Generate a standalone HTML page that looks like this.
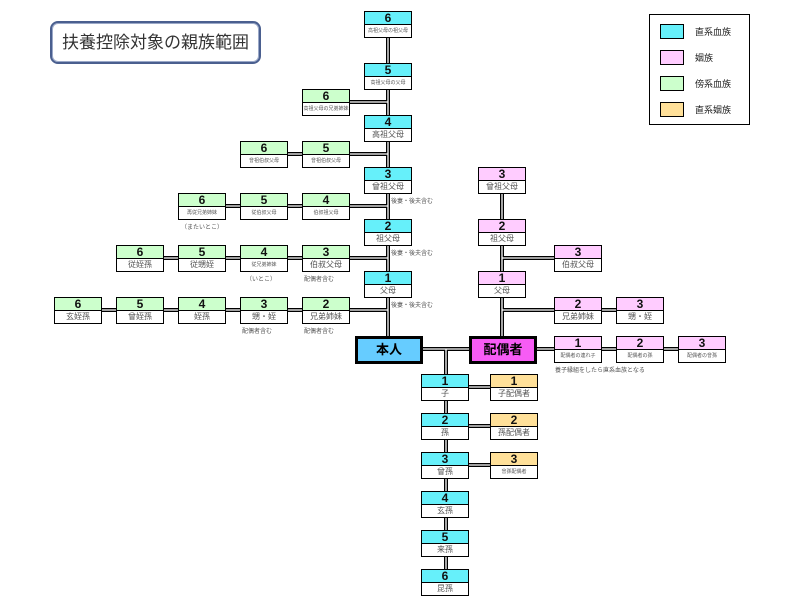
<!DOCTYPE html>
<html><head><meta charset="utf-8"><style>
body{margin:0;width:803px;height:610px;background:#fff;position:relative;overflow:hidden;font-family:"Liberation Sans","Noto Sans CJK JP",sans-serif;}
.b{position:absolute;width:46px;height:25px;border:1px solid #000;background:#fff;}
.b .n{height:12px;border-bottom:1px solid #000;font-weight:bold;font-size:12px;line-height:13px;text-align:center;color:#111;}
.b .l{height:12px;font-size:8px;line-height:12px;text-align:center;color:#555;white-space:nowrap;overflow:hidden;}
.b .l.s{font-size:5px;}
.c .n{background:#66f0fa}.p .n{background:#ffccff}.g .n{background:#ccffcc}.y .n{background:#ffe099}
.t{position:absolute;font-size:6px;color:#555;white-space:nowrap;}
.big{position:absolute;height:22px;border:3px solid #000;font-weight:bold;font-size:13px;line-height:22px;text-align:center;}
</style></head><body>
<svg width="803" height="610" style="position:absolute;left:0;top:0">
<g fill="none">
<g stroke="#000" stroke-width="4">
<path d="M388 37V336M446 349V569M502 193V336M422 349H469M348 102H388M240 154H388M178 206H388M116 258H388M54 310H388M502 258H554M502 310H616M536 349H678M446 387H490M446 426H490M446 465H490"/>
</g>
<g stroke="#fff" stroke-width="1.3">
<path d="M388 37V336M446 349V569M502 193V336M422 349H469M348 102H388M240 154H388M178 206H388M116 258H388M54 310H388M502 258H554M502 310H616M536 349H678M446 387H490M446 426H490M446 465H490"/>
</g>
</g>
</svg>
<div style="position:absolute;left:50px;top:21px;width:207px;height:39px;border:2px solid #4a5f8f;border-radius:8px;box-shadow:inset 0 0 0 1px #9aa8c8;font-size:17px;line-height:39px;text-align:center;color:#333;">扶養控除対象の親族範囲</div>
<div style="position:absolute;left:649px;top:14px;width:99px;height:109px;border:1px solid #000;font-size:9px;color:#222;">
<div style="position:absolute;left:10px;top:9px;width:22px;height:13px;border:1px solid #000;background:#66f0fa"></div><div style="position:absolute;left:45px;top:10px">直系血族</div>
<div style="position:absolute;left:10px;top:35px;width:22px;height:13px;border:1px solid #000;background:#ffccff"></div><div style="position:absolute;left:45px;top:36px">姻族</div>
<div style="position:absolute;left:10px;top:61px;width:22px;height:13px;border:1px solid #000;background:#ccffcc"></div><div style="position:absolute;left:45px;top:62px">傍系血族</div>
<div style="position:absolute;left:10px;top:87px;width:22px;height:13px;border:1px solid #000;background:#ffe099"></div><div style="position:absolute;left:45px;top:88px">直系姻族</div>
</div>

<div class="b c" style="left:364px;top:11px"><div class="n">6</div><div class="l s">高祖父母の祖父母</div></div>
<div class="b c" style="left:364px;top:63px"><div class="n">5</div><div class="l s">高祖父母の父母</div></div>
<div class="b c" style="left:364px;top:115px"><div class="n">4</div><div class="l">高祖父母</div></div>
<div class="b c" style="left:364px;top:167px"><div class="n">3</div><div class="l">曾祖父母</div></div>
<div class="b c" style="left:364px;top:219px"><div class="n">2</div><div class="l">祖父母</div></div>
<div class="b c" style="left:364px;top:271px"><div class="n">1</div><div class="l">父母</div></div>

<div class="b g" style="left:302px;top:89px"><div class="n">6</div><div class="l s">高祖父母の兄弟姉妹</div></div>
<div class="b g" style="left:240px;top:141px"><div class="n">6</div><div class="l s">曾祖伯叔父母</div></div>
<div class="b g" style="left:302px;top:141px"><div class="n">5</div><div class="l s">曾祖伯叔父母</div></div>
<div class="b g" style="left:178px;top:193px"><div class="n">6</div><div class="l s">再従兄弟姉妹</div></div>
<div class="b g" style="left:240px;top:193px"><div class="n">5</div><div class="l s">従伯叔父母</div></div>
<div class="b g" style="left:302px;top:193px"><div class="n">4</div><div class="l s">伯叔祖父母</div></div>
<div class="b g" style="left:116px;top:245px"><div class="n">6</div><div class="l">従姪孫</div></div>
<div class="b g" style="left:178px;top:245px"><div class="n">5</div><div class="l">従甥姪</div></div>
<div class="b g" style="left:240px;top:245px"><div class="n">4</div><div class="l s">従兄弟姉妹</div></div>
<div class="b g" style="left:302px;top:245px"><div class="n">3</div><div class="l">伯叔父母</div></div>
<div class="b g" style="left:54px;top:297px"><div class="n">6</div><div class="l">玄姪孫</div></div>
<div class="b g" style="left:116px;top:297px"><div class="n">5</div><div class="l">曾姪孫</div></div>
<div class="b g" style="left:178px;top:297px"><div class="n">4</div><div class="l">姪孫</div></div>
<div class="b g" style="left:240px;top:297px"><div class="n">3</div><div class="l">甥・姪</div></div>
<div class="b g" style="left:302px;top:297px"><div class="n">2</div><div class="l">兄弟姉妹</div></div>

<div class="b p" style="left:478px;top:167px"><div class="n">3</div><div class="l">曾祖父母</div></div>
<div class="b p" style="left:478px;top:219px"><div class="n">2</div><div class="l">祖父母</div></div>
<div class="b p" style="left:478px;top:271px"><div class="n">1</div><div class="l">父母</div></div>
<div class="b p" style="left:554px;top:245px"><div class="n">3</div><div class="l">伯叔父母</div></div>
<div class="b p" style="left:554px;top:297px"><div class="n">2</div><div class="l">兄弟姉妹</div></div>
<div class="b p" style="left:616px;top:297px"><div class="n">3</div><div class="l">甥・姪</div></div>
<div class="b p" style="left:554px;top:336px"><div class="n">1</div><div class="l s">配偶者の連れ子</div></div>
<div class="b p" style="left:616px;top:336px"><div class="n">2</div><div class="l s">配偶者の孫</div></div>
<div class="b p" style="left:678px;top:336px"><div class="n">3</div><div class="l s">配偶者の曾孫</div></div>

<div class="b c" style="left:421px;top:374px"><div class="n">1</div><div class="l">子</div></div>
<div class="b c" style="left:421px;top:413px"><div class="n">2</div><div class="l">孫</div></div>
<div class="b c" style="left:421px;top:452px"><div class="n">3</div><div class="l">曾孫</div></div>
<div class="b c" style="left:421px;top:491px"><div class="n">4</div><div class="l">玄孫</div></div>
<div class="b c" style="left:421px;top:530px"><div class="n">5</div><div class="l">来孫</div></div>
<div class="b c" style="left:421px;top:569px"><div class="n">6</div><div class="l">昆孫</div></div>
<div class="b y" style="left:490px;top:374px"><div class="n">1</div><div class="l">子配偶者</div></div>
<div class="b y" style="left:490px;top:413px"><div class="n">2</div><div class="l">孫配偶者</div></div>
<div class="b y" style="left:490px;top:452px"><div class="n">3</div><div class="l s">曾孫配偶者</div></div>

<div class="big" style="left:355px;top:336px;width:62px;background:#66ccff">本人</div>
<div class="big" style="left:469px;top:336px;width:62px;background:#f75cf5">配偶者</div>

<div class="t" style="left:391px;top:196px">後妻・後夫含む</div>
<div class="t" style="left:391px;top:248px">後妻・後夫含む</div>
<div class="t" style="left:391px;top:300px">後妻・後夫含む</div>
<div class="t" style="left:181px;top:222px">（またいとこ）</div>
<div class="t" style="left:246px;top:274px">（いとこ）</div>
<div class="t" style="left:304px;top:274px">配偶者含む</div>
<div class="t" style="left:242px;top:326px">配偶者含む</div>
<div class="t" style="left:304px;top:326px">配偶者含む</div>
<div class="t" style="left:555px;top:365px">養子縁組をしたら直系血族となる</div>
</body></html>
